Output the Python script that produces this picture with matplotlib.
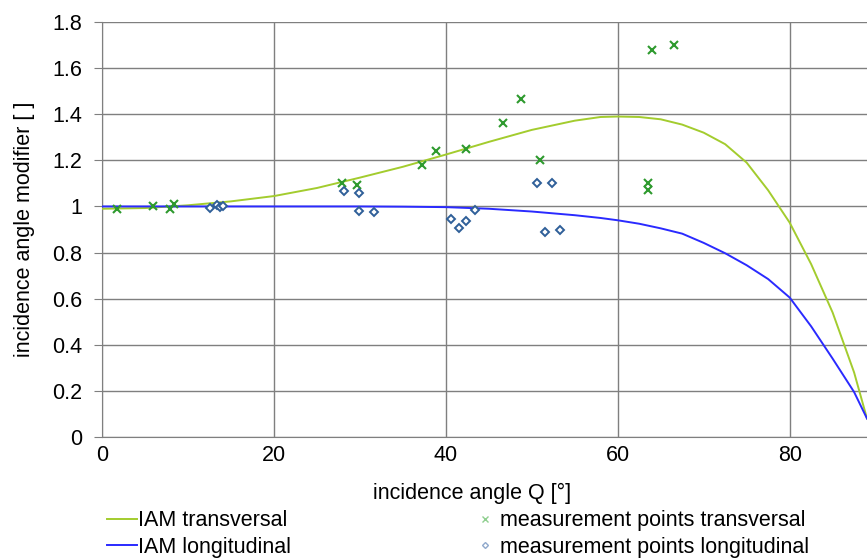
import numpy as np
import matplotlib
matplotlib.use("Agg")
import matplotlib.pyplot as plt
from matplotlib.lines import Line2D

plt.rcParams['font.family'] = ['Liberation Sans', 'DejaVu Sans']

# IAM curves
curve_angle = [0, 5, 10, 15, 20, 25, 30, 35, 40, 45, 50, 55, 58, 60, 62.5,
               65, 67.5, 70, 72.5, 75, 77.5, 80, 82.5, 85, 87.5, 89]
iam_trans = [0.99, 0.993, 1.005, 1.022, 1.045, 1.08, 1.125, 1.172, 1.225,
             1.28, 1.332, 1.372, 1.388, 1.39, 1.388, 1.378, 1.355, 1.32,
             1.27, 1.19, 1.07, 0.93, 0.75, 0.54, 0.28, 0.08]
iam_long = [1.0, 1.0, 1.0, 1.0, 1.0, 1.0, 1.0, 0.999, 0.997, 0.99, 0.978,
            0.962, 0.95, 0.94, 0.925, 0.905, 0.882, 0.842, 0.797, 0.745,
            0.685, 0.605, 0.48, 0.34, 0.195, 0.08]

# measurement points
meas_trans_angle = [1.8, 5.9, 7.9, 8.4, 27.9, 29.7, 37.2, 38.8, 42.3, 46.7,
                    48.8, 50.9, 63.5, 63.5, 64.0, 66.5]
meas_trans_iam = [0.99, 1.0, 0.99, 1.01, 1.10, 1.095, 1.18, 1.24, 1.25,
                  1.36, 1.465, 1.20, 1.10, 1.07, 1.68, 1.70]
meas_long_angle = [12.6, 13.4, 13.7, 14.1, 28.1, 29.9, 29.9, 31.6, 40.6,
                   41.5, 42.4, 43.4, 50.6, 52.4, 51.5, 53.3]
meas_long_iam = [0.993, 1.005, 0.997, 1.0, 1.067, 1.058, 0.98, 0.976, 0.945,
                 0.906, 0.937, 0.984, 1.10, 1.10, 0.889, 0.898]

fs = 15.5
fig = plt.figure(figsize=(8.67, 5.6), dpi=100)
ax = fig.add_axes([102/867, 1 - 437/560, 1 - 102/867, (437 - 22)/560])

green = "#a3cc2e"
blue = "#2a2aff"
ax.plot(curve_angle, iam_trans, color=green, lw=1.4, zorder=3)
ax.plot(curve_angle, iam_long, color=blue, lw=1.4, zorder=3)
ax.plot(meas_trans_angle, meas_trans_iam, ls="none", marker="x",
        ms=5.5, mew=1.5, color="#2e9a2e", zorder=4)
ax.plot(meas_long_angle, meas_long_iam, ls="none", marker="D", ms=4.5,
        mew=1.4, mfc="white", mec="#2f5f99", zorder=4)

ax.set_xlim(0, 89)
ax.set_ylim(0, 1.8)
ax.set_xticks([0, 20, 40, 60, 80])
ax.set_yticks(np.arange(0, 1.81, 0.2))
ax.set_yticklabels(["0", "0.2", "0.4", "0.6", "0.8", "1", "1.2", "1.4",
                    "1.6", "1.8"])
ax.grid(True, color="#7f7f7f", lw=1.0)
ax.set_axisbelow(True)
for s in ["top", "right"]:
    ax.spines[s].set_visible(False)
for s in ["left", "bottom"]:
    ax.spines[s].set_color("#7f7f7f")
ax.tick_params(axis="both", labelsize=fs, colors="#7f7f7f",
               labelcolor="black", length=6, direction="out")
ax.tick_params(axis="y", pad=8)
ax.tick_params(axis="x", length=0, pad=6)

fig.text(25/867, 1 - 229/560, "incidence angle modifier [ ]", fontsize=fs,
         rotation=90, ha="center", va="center")
fig.text(472/867, 1 - 493/560, "incidence angle Q [°]", fontsize=fs,
         ha="center", va="center")

# legend, two columns placed separately
line_handles = [Line2D([], [], color=green, lw=1.4),
                Line2D([], [], color=blue, lw=1.4)]
point_handles = [
    Line2D([], [], ls="none", marker="x", ms=4, mew=1, color="#8fcf8f"),
    Line2D([], [], ls="none", marker="D", ms=3, mew=1, mfc="white",
           mec="#8fa8cc"),
]
common = dict(loc="center left", frameon=False, fontsize=fs, borderpad=0,
              labelspacing=0.25, borderaxespad=0)
leg1 = fig.legend(line_handles, ["IAM transversal", "IAM longitudinal"],
                  bbox_to_anchor=(107/867, 1 - 534/560), handlelength=1.4,
                  handletextpad=0.05, **common)
leg2 = fig.legend(point_handles, ["measurement points transversal",
                                  "measurement points longitudinal"],
                  bbox_to_anchor=(476/867, 1 - 534/560), handlelength=0.8,
                  handletextpad=0.3, **common)

fig.savefig("out.png", dpi=100)
